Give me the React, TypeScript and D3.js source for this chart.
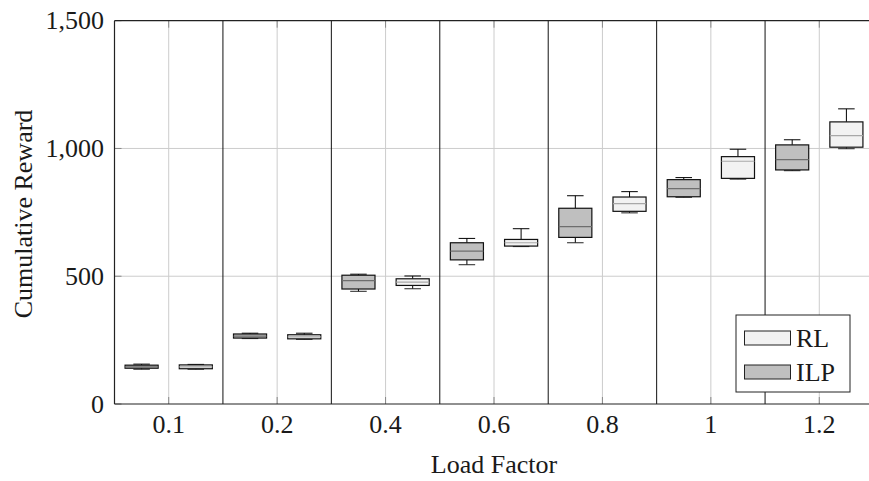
import React from "react";
import * as d3 from "d3";

const categories = ["0.1", "0.2", "0.4", "0.6", "0.8", "1", "1.2"];
// [low whisker, q1, median, q3, high whisker]
const ilpStats: number[][] = [
  [136, 140, 145, 152, 156],
  [256, 258, 266, 274, 277],
  [441, 450, 483, 504, 508],
  [545, 564, 598, 631, 648],
  [631, 652, 694, 766, 815],
  [809, 811, 843, 878, 886],
  [913, 916, 956, 1014, 1034],
];
const rlStats: number[][] = [
  [136, 138, 145, 153, 155],
  [253, 255, 263, 271, 277],
  [451, 464, 477, 490, 501],
  [616, 618, 631, 644, 686],
  [748, 754, 784, 810, 831],
  [880, 883, 950, 968, 997],
  [999, 1005, 1050, 1104, 1155],
];
const yTicks = [0, 500, 1000, 1500];
const seriesNames = ["RL", "ILP"];

const W = 869;
const H = 481;
const left = 114.5;
const right = 873.5;
const top = 20.7;
const bottom = 404;
const FONT = "'Liberation Serif', 'Times New Roman', serif";
const FS = 26;
const ILP_FILL = "#bfbfbf";
const RL_FILL = "#f2f2f2";

export default function App() {
  const x = d3.scaleBand<string>().domain(categories).range([left, right]).padding(0);
  const y = d3.scaleLinear().domain([0, 1500]).range([bottom, top]);
  const bw = x.bandwidth();
  const boxW = bw * 0.305;
  const off = bw * 0.25;
  const fmt = d3.format(",");

  const box = (s: number[], cx: number, fill: string, med: string, key: string) => {
    const [lo, q1, m, q3, hi] = s;
    const cap = boxW / 2;
    return (
      <g key={key}>
        <line x1={cx} x2={cx} y1={y(hi)} y2={y(q3)} stroke="#000" strokeWidth={1} />
        <line x1={cx} x2={cx} y1={y(q1)} y2={y(lo)} stroke="#000" strokeWidth={1} />
        <line x1={cx - cap / 2} x2={cx + cap / 2} y1={y(hi)} y2={y(hi)} stroke="#000" strokeWidth={1} />
        <line x1={cx - cap / 2} x2={cx + cap / 2} y1={y(lo)} y2={y(lo)} stroke="#222" strokeWidth={1} />
        <rect x={cx - boxW / 2} y={y(q3)} width={boxW} height={Math.max(1, y(q1) - y(q3))} fill={fill} stroke="#111" strokeWidth={1.2} />
        <line x1={cx - boxW / 2} x2={cx + boxW / 2} y1={y(m)} y2={y(m)} stroke={med} strokeWidth={1.2} />
      </g>
    );
  };

  return (
    <svg width={W} height={H} style={{ position: "absolute", left: 0, top: 0, background: "#fff" }}>
      {yTicks.filter((t) => t > 0 && t < 1500).map((t) => (
        <line key={"hg" + t} x1={left} x2={right} y1={y(t)} y2={y(t)} stroke="#cccccc" strokeWidth={1} />
      ))}
      {categories.map((c) => {
        const cx = (x(c) as number) + bw / 2;
        return (
          <g key={"vg" + c}>
            <line x1={cx} x2={cx} y1={top} y2={bottom} stroke="#cccccc" strokeWidth={1} />
            <line x1={cx} x2={cx} y1={top} y2={top + 7} stroke="#888" strokeWidth={1} />
            <line x1={cx} x2={cx} y1={bottom} y2={bottom - 7} stroke="#888" strokeWidth={1} />
          </g>
        );
      })}
      {categories.slice(1).map((c) => (
        <line key={"sep" + c} x1={x(c) as number} x2={x(c) as number} y1={top} y2={bottom} stroke="#111" strokeWidth={1} />
      ))}
      {yTicks.map((t) => (
        <g key={"yt" + t}>
          <line x1={left} x2={left + 7} y1={y(t)} y2={y(t)} stroke="#888" strokeWidth={1} />
          <text x={104} y={y(t)} dy="0.33em" textAnchor="end" fontFamily={FONT} fontSize={FS} fill="#1a1a1a">
            {fmt(t)}
          </text>
        </g>
      ))}
      {categories.map((c, i) => {
        const cx = (x(c) as number) + bw / 2;
        return (
          <g key={"b" + c}>
            {box(ilpStats[i], cx - off, ILP_FILL, "#6e6e6e", "ilp" + c)}
            {box(rlStats[i], cx + off, RL_FILL, "#a8a8a8", "rl" + c)}
          </g>
        );
      })}
      <line x1={left} x2={right} y1={bottom} y2={bottom} stroke="#222" strokeWidth={1.2} />
      <line x1={left} x2={right} y1={top} y2={top} stroke="#222" strokeWidth={1.2} />
      <line x1={left} x2={left} y1={top} y2={bottom} stroke="#222" strokeWidth={1.2} />
      {categories.map((c) => (
        <text key={"xl" + c} x={(x(c) as number) + bw / 2} y={433} textAnchor="middle" fontFamily={FONT} fontSize={FS} fill="#1a1a1a">
          {c}
        </text>
      ))}
      <text x={(left + right) / 2} y={473} textAnchor="middle" fontFamily={FONT} fontSize={FS} fill="#1a1a1a">
        Load Factor
      </text>
      <text transform={`translate(32,214) rotate(-90)`} textAnchor="middle" fontFamily={FONT} fontSize={FS} fill="#1a1a1a">
        Cumulative Reward
      </text>
      <g>
        <rect x={736} y={315} width={114} height={77} fill="#fff" stroke="#222" strokeWidth={1} />
        {seriesNames.map((n, i) => (
          <g key={"lg" + n}>
            <rect x={744.5} y={331 + i * 34} width={46} height={14} fill={n === "RL" ? RL_FILL : ILP_FILL} stroke="#222" strokeWidth={1} />
            <text x={796} y={347 + i * 34} fontFamily={FONT} fontSize={FS} fill="#1a1a1a">
              {n}
            </text>
          </g>
        ))}
      </g>
    </svg>
  );
}
